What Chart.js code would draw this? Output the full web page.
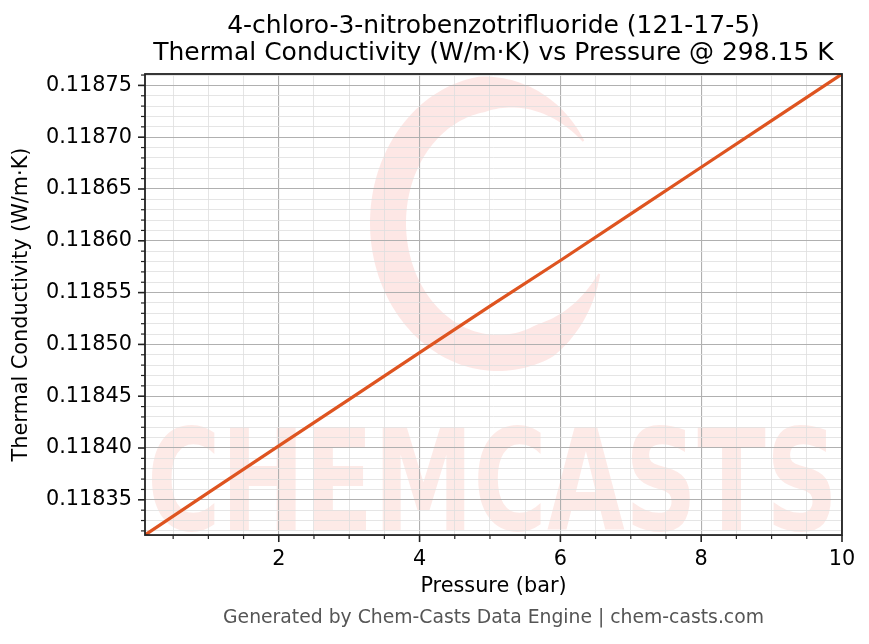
<!DOCTYPE html>
<html>
<head>
<meta charset="utf-8">
<script src="https://cdn.jsdelivr.net/npm/chart.js@4.4.1/dist/chart.umd.min.js"></script>
<style>
  html, body { margin: 0; padding: 0; background: #fff; }
  #chart { display: block; }
</style>
</head>
<body>
<canvas id="chart" width="869" height="644"></canvas>
<script>
// data
const pressureBar = [0.1, 1, 2, 3, 4, 5, 6, 7, 8, 9, 10];
const thermalConductivity = [0.118316, 0.118357, 0.118402, 0.118447, 0.118492, 0.118537, 0.118581, 0.118626, 0.118671, 0.118716, 0.118761];

// tick labels
const xMajorTicks = [2, 4, 6, 8, 10];
const yMajorTicks = [0.11835, 0.11840, 0.11845, 0.11850, 0.11855, 0.11860, 0.11865, 0.11870, 0.11875];
const xMinorStep = 0.5;
const yMinorStep = 0.00001;

const titleLines = ['4-chloro-3-nitrobenzotrifluoride (121-17-5)', 'Thermal Conductivity (W/m\u00b7K) vs Pressure @ 298.15 K'];
const xTitle = 'Pressure (bar)';
const yTitle = 'Thermal Conductivity (W/m\u00b7K)';
const footer = 'Generated by Chem-Casts Data Engine | chem-casts.com';

const xMin = Math.min(...pressureBar);
const xMax = Math.max(...pressureBar);
const yMin = Math.min(...thermalConductivity);
const yMax = Math.max(...thermalConductivity);

function stepTicks(min, max, step) {
  const out = [];
  const first = Math.ceil(min / step - 1e-9);
  const last = Math.floor(max / step + 1e-9);
  for (let k = first; k <= last; k++) out.push({ value: +(k * step).toPrecision(10) });
  return out;
}

function isMajor(list, v) {
  return list.some(m => Math.abs(m - v) < 1e-9);
}

Chart.defaults.font.family = "'DejaVu Sans', sans-serif";
Chart.defaults.color = '#000';

const watermark = {
  id: 'watermark',
  beforeDraw(chart) {
    const { ctx, chartArea: a } = chart;
    ctx.save();
    ctx.fillStyle = '#fff';
    ctx.fillRect(0, 0, chart.width, chart.height);
    ctx.beginPath();
    ctx.rect(a.left, a.top, a.right - a.left, a.bottom - a.top);
    ctx.clip();
    // swirl logo: one filled brush stroke that tapers at both ends
    const cx = a.left + 353, cy = a.top + 149, rx = 110, ry = 130;
    const start = -39 * Math.PI / 180;
    const sweep = 2 * Math.PI - 62 * Math.PI / 180;
    const n = 160;
    const outer = [], inner = [];
    for (let i = 0; i <= n; i++) {
      const f = i / n;
      const t = start - sweep * f;
      const taper = Math.min(1, f / 0.2, (1 - f) / 0.14);
      const hw = 1 + 17 * taper;
      outer.push([cx + (rx + hw) * Math.cos(t), cy + (ry + hw) * Math.sin(t)]);
      inner.push([cx + (rx - hw) * Math.cos(t), cy + (ry - hw) * Math.sin(t)]);
    }
    ctx.fillStyle = 'rgba(240, 60, 40, 0.12)';
    ctx.beginPath();
    outer.forEach(([x, y], i) => i ? ctx.lineTo(x, y) : ctx.moveTo(x, y));
    inner.reverse().forEach(([x, y]) => ctx.lineTo(x, y));
    ctx.closePath();
    ctx.fill();
    // brand text
    ctx.fillStyle = 'rgba(240, 60, 40, 0.11)';
    ctx.font = "bold 140px 'DejaVu Sans'";
    ctx.textBaseline = 'alphabetic';
    ctx.textAlign = 'left';
    ctx.fillText('CHEMCASTS', a.left + 2, a.bottom - 5, a.right - a.left - 6);
    ctx.restore();
  }
};

const frame = {
  id: 'frame',
  afterDatasetsDraw(chart) {
    const { ctx, chartArea: a, scales } = chart;
    ctx.save();
    ctx.strokeStyle = '#222';
    // tick marks, outward
    scales.x.ticks.forEach(t => {
      const px = scales.x.getPixelForValue(t.value);
      const major = isMajor(xMajorTicks, t.value);
      ctx.lineWidth = major ? 1.6 : 1.2;
      ctx.beginPath();
      ctx.moveTo(px, a.bottom);
      ctx.lineTo(px, a.bottom + (major ? 7 : 4));
      ctx.stroke();
    });
    scales.y.ticks.forEach(t => {
      const py = scales.y.getPixelForValue(t.value);
      const major = isMajor(yMajorTicks, t.value);
      ctx.lineWidth = major ? 1.6 : 1.2;
      ctx.beginPath();
      ctx.moveTo(a.left, py);
      ctx.lineTo(a.left - (major ? 7 : 4), py);
      ctx.stroke();
    });
    // spines
    ctx.lineWidth = 1.8;
    ctx.strokeRect(a.left, a.top, a.right - a.left, a.bottom - a.top);
    ctx.restore();
  }
};

const ctx = document.getElementById('chart').getContext('2d');

new Chart(ctx, {
  type: 'line',
  data: {
    datasets: [{
      data: pressureBar.map((p, i) => ({ x: p, y: thermalConductivity[i] })),
      borderColor: '#de5420',
      borderWidth: 3.2,
      pointRadius: 0,
      fill: false,
      tension: 0
    }]
  },
  options: {
    responsive: false,
    animation: false,
    devicePixelRatio: 1,
    layout: { padding: { left: 0, right: 27, top: 0, bottom: 0 } },
    plugins: {
      legend: { display: false },
      tooltip: { enabled: false },
      title: {
        display: true,
        text: titleLines,
        fullSize: false,
        color: '#000',
        font: { size: 25, weight: 'normal', lineHeight: 1.08 },
        padding: { top: 13, bottom: 7 }
      },
      subtitle: {
        display: true,
        position: 'bottom',
        text: footer,
        fullSize: false,
        color: '#555',
        font: { size: 18.8, weight: 'normal', lineHeight: 1.2 },
        padding: { top: 6.7, bottom: 14.7 }
      }
    },
    scales: {
      x: {
        type: 'linear',
        min: xMin,
        max: xMax,
        afterBuildTicks: s => { s.ticks = stepTicks(xMin, xMax, xMinorStep); },
        afterFit: s => { s.height = 65; },
        ticks: {
          autoSkip: false,
          maxRotation: 0,
          padding: 12,
          font: { size: 20.8 },
          callback: v => isMajor(xMajorTicks, v) ? String(v) : ''
        },
        grid: {
          drawTicks: false,
          color: c => isMajor(xMajorTicks, c.tick.value) ? '#b0b0b0' : '#dedede',
          lineWidth: c => isMajor(xMajorTicks, c.tick.value) ? 1.1 : 0.8,
          borderDash: c => isMajor(xMajorTicks, c.tick.value) ? [] : [3, 2],
          dash: c => isMajor(xMajorTicks, c.tick.value) ? [] : [3, 2]
        },
        border: { display: false },
        title: {
          display: true,
          text: xTitle,
          font: { size: 20.8 },
          padding: { top: 0, bottom: 0.5 }
        }
      },
      y: {
        type: 'linear',
        min: yMin,
        max: yMax,
        afterBuildTicks: s => { s.ticks = stepTicks(yMin, yMax, yMinorStep); },
        afterFit: s => { s.width = 145; },
        ticks: {
          autoSkip: false,
          padding: 13,
          font: { size: 20.8 },
          callback: v => isMajor(yMajorTicks, v) ? v.toFixed(5) : ''
        },
        grid: {
          drawTicks: false,
          color: c => isMajor(yMajorTicks, c.tick.value) ? '#b0b0b0' : '#dedede',
          lineWidth: c => isMajor(yMajorTicks, c.tick.value) ? 1.1 : 0.8,
          borderDash: c => isMajor(yMajorTicks, c.tick.value) ? [] : [3, 2],
          dash: c => isMajor(yMajorTicks, c.tick.value) ? [] : [3, 2]
        },
        border: { display: false },
        title: {
          display: true,
          text: yTitle,
          font: { size: 20.8 },
          padding: { top: 9.5, bottom: 0 }
        }
      }
    }
  },
  plugins: [watermark, frame]
});
</script>
</body>
</html>
